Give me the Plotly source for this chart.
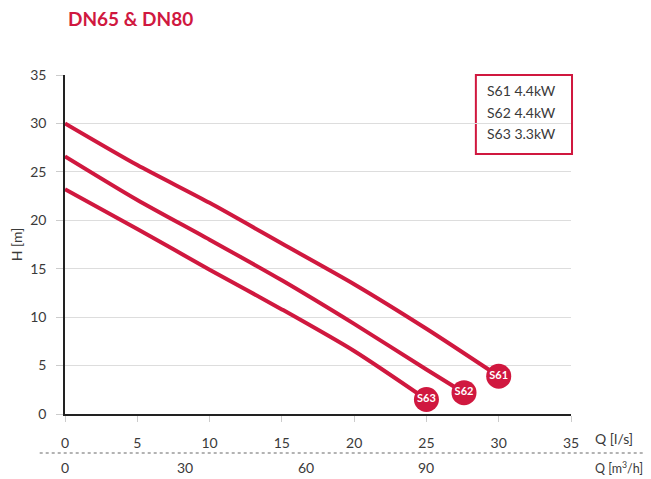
import plotly.graph_objects as go

# ---- data ----
q_s61 = [0, 5, 10, 15, 20, 25, 30]
h_s61 = [30.0, 25.7, 21.8, 17.6, 13.4, 8.8, 3.9]
q_s62 = [0, 5, 10, 15, 20, 25, 27.6]
h_s62 = [26.6, 22.1, 18.0, 13.8, 9.3, 4.6, 2.2]
q_s63 = [0, 5, 10, 15, 20, 25]
h_s63 = [23.2, 19.1, 14.9, 10.8, 6.5, 1.5]
series_names = ["S61", "S62", "S63"]
legend_labels = ["S61 4.4kW", "S62 4.4kW", "S63 3.3kW"]
x_ticks_ls = [0, 5, 10, 15, 20, 25, 30, 35]
x_ticks_m3h = [0, 30, 60, 90]
y_ticks = [0, 5, 10, 15, 20, 25, 30, 35]

RED = "#d0183f"
TXT = "#3a3a3a"
FONT = "Lato"

fig = go.Figure()
for q, h in [(q_s61, h_s61), (q_s62, h_s62), (q_s63, h_s63)]:
    fig.add_trace(go.Scatter(x=q, y=h, mode="lines",
                             line=dict(color=RED, width=4, shape="spline", smoothing=0.7),
                             hoverinfo="skip", showlegend=False))
# end markers with labels
for name, q, h in zip(series_names, [q_s61, q_s62, q_s63], [h_s61, h_s62, h_s63]):
    fig.add_trace(go.Scatter(x=[q[-1]], y=[h[-1]], mode="markers+text",
                             marker=dict(color=RED, size=25),
                             text=[name], textposition="middle center",
                             textfont=dict(color="white", size=11, family=FONT, weight="bold"),
                             showlegend=False, cliponaxis=False))

annotations = []
# legend box texts
leg_y = [0.953, 0.889, 0.826]
for lab, yy in zip(legend_labels, leg_y):
    annotations.append(dict(text=lab, xref="paper", yref="paper", x=0.831, y=yy,
                            xanchor="left", yanchor="middle", showarrow=False,
                            font=dict(size=14, color=TXT, family=FONT)))
# secondary axis labels (m3/h -> l/s)
for v in x_ticks_m3h:
    annotations.append(dict(text=str(v), xref="x", yref="paper", x=v / 3.6, y=-0.159,
                            xanchor="center", yanchor="middle", showarrow=False,
                            font=dict(size=14, color=TXT, family=FONT)))
annotations.append(dict(text="Q [l/s]", xref="paper", yref="paper", x=1.044, y=-0.071,
                        xanchor="left", yanchor="middle", showarrow=False,
                        font=dict(size=14, color=TXT, family=FONT)))
annotations.append(dict(text="Q [m<sup>3</sup>/h]", xref="paper", yref="paper", x=1.044, y=-0.159,
                        xanchor="left", yanchor="middle", showarrow=False,
                        font=dict(size=12.5, color=TXT, family=FONT)))
annotations.append(dict(text="<b>DN65 &amp; DN80</b>", xref="paper", yref="paper",
                        x=(66 - 65) / 506, y=(414 - 19) / 339, xanchor="left", yanchor="middle",
                        showarrow=False, font=dict(size=19, color=RED, family=FONT)))

shapes = [
    dict(type="rect", xref="paper", yref="paper", x0=0.812, x1=1.002, y0=0.767, y1=1.0,
         line=dict(color=RED, width=2), fillcolor="white", layer="below"),
    dict(type="line", xref="paper", yref="paper", x0=-0.05, x1=1.16, y0=-0.115, y1=-0.115,
         line=dict(color="#9a9a9a", width=1.5, dash="dot")),
]

# page body has an 8px margin, so the figure is sized/offset to compensate
fig.update_layout(
    width=643, height=471,
    margin=dict(l=57, r=80, t=67, b=65, autoexpand=False),
    paper_bgcolor="white", plot_bgcolor="white",
    font=dict(family=FONT, size=14, color=TXT),
    showlegend=False,
    annotations=annotations,
    shapes=shapes,
    xaxis=dict(range=[0, 35], tickvals=x_ticks_ls, showgrid=False, zeroline=False,
               showline=True, linecolor="#222", linewidth=1.5, automargin=False,
               ticks="outside", ticklen=6, tickcolor="#cccccc", tickwidth=1,
               ticklabelstandoff=9, tickfont=dict(size=14, color=TXT)),
    yaxis=dict(range=[0, 35], tickvals=y_ticks, showgrid=True, gridcolor="#dddddd", gridwidth=1,
               zeroline=False, showline=True, linecolor="#222", linewidth=1.5, automargin=False,
               ticks="outside", ticklen=7, tickcolor="#cccccc", tickwidth=1,
               ticklabelstandoff=7, tickfont=dict(size=14, color=TXT),
               title=dict(text="H [m]", font=dict(size=14, color=TXT), standoff=8)),
)

fig.write_html("out.html")
